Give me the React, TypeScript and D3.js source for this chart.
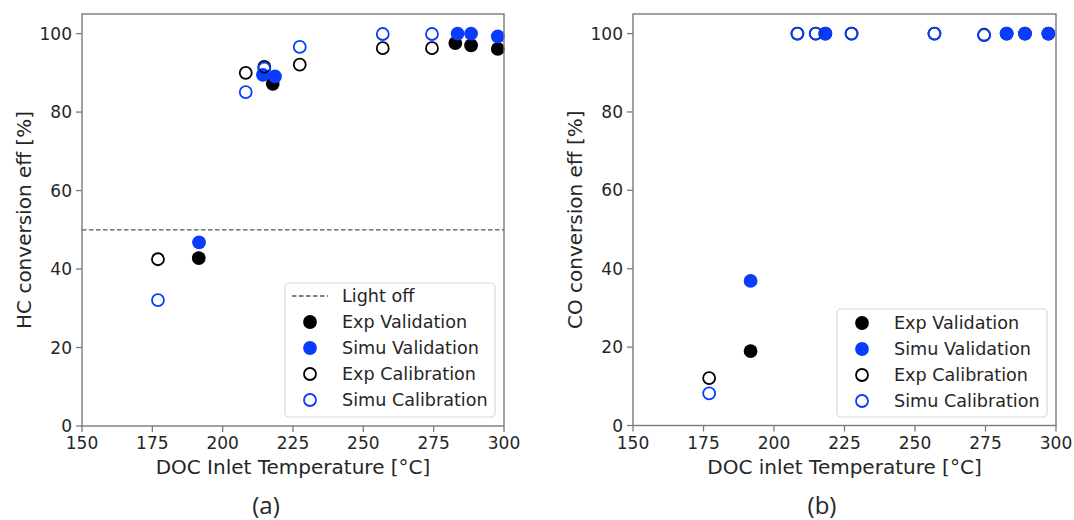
import React from "react";
import * as d3 from "d3";

// ---------- data ----------
const xTicks = [150, 175, 200, 225, 250, 275, 300];
const yTicks = [0, 20, 40, 60, 80, 100];
const lightOff = 50;

// (a) HC
const hcCalT = [177, 208.2, 214.8, 227.4, 256.9, 274.4];
const hcExpCal = [42.5, 90, 91.5, 92.1, 96.3, 96.3];
const hcSimuCal = [32.1, 85.1, 91.1, 96.6, 99.9, 99.9];
const hcExpValT = [191.5, 217.8, 282.7, 288.3, 297.8];
const hcExpVal = [42.8, 87.2, 97.6, 97.0, 96.1];
const hcSimuValT = [191.6, 214.3, 218.6, 283.5, 288.3, 297.8];
const hcSimuVal = [46.8, 89.5, 89.1, 100, 100, 99.3];

// (b) CO
const coCalT = [177, 208.3, 214.8, 227.5, 256.9, 274.5];
const coExpCal = [12.1, 100, 100, 100, 100, 99.7];
const coSimuCal = [8.2, 100, 100, 100, 100, 99.6];
const coValT = [191.7, 218.2, 282.5, 289, 297.3];
const coExpVal = [19.0, 100, 100, 100, 100];
const coSimuVal = [36.9, 100, 100, 100, 100];

const BLUE = "#0a3cff";
const TXT = "#262626";
const SPINE = "#7a7a7a";
const FONT = "DejaVu Sans, sans-serif";

type Series = { xs: number[]; ys: number[]; fill: string; stroke: string; open: boolean };

type PanelProps = {
  left: number;
  right: number;
  top: number;
  bottom: number;
  ylabel: string;
  xlabel: string;
  tag: string;
  tagX: number;
  series: Series[];
  showLightOff: boolean;
  legend: { x: number; y: number; w: number; h: number; rowY0: number };
};

function Panel(p: PanelProps) {
  const x = d3.scaleLinear().domain([150, 300]).range([p.left, p.right]);
  const y = d3.scaleLinear().domain([0, 105]).range([p.bottom, p.top]);
  const r = 6.9;
  const legendItems: { label: string; kind: string; color: string }[] = [];
  if (p.showLightOff) legendItems.push({ label: "Light off", kind: "line", color: "#444" });
  legendItems.push({ label: "Exp Validation", kind: "filled", color: "#000" });
  legendItems.push({ label: "Simu Validation", kind: "filled", color: BLUE });
  legendItems.push({ label: "Exp Calibration", kind: "open", color: "#000" });
  legendItems.push({ label: "Simu Calibration", kind: "open", color: BLUE });
  const L = p.legend;
  const rowH = 26;
  return (
    <g>
      {p.showLightOff && (
        <line
          x1={p.left}
          x2={p.right}
          y1={y(lightOff)}
          y2={y(lightOff)}
          stroke="#555"
          strokeWidth={1.3}
          strokeDasharray="4.5,2.5"
        />
      )}
      {p.series.map((s, si) =>
        s.xs.map((xv, i) => (
          <circle
            key={si + "-" + i}
            cx={x(xv)}
            cy={y(s.ys[i])}
            r={s.open ? r - 0.9 : r}
            fill={s.open ? "none" : s.fill}
            stroke={s.open ? s.stroke : "none"}
            strokeWidth={s.open ? 1.8 : 0}
          />
        ))
      )}
      {/* spines */}
      <rect
        x={p.left}
        y={p.top}
        width={p.right - p.left}
        height={p.bottom - p.top}
        fill="none"
        stroke={SPINE}
        strokeWidth={1.4}
      />
      {/* x ticks */}
      {xTicks.map((t) => (
        <g key={"x" + t}>
          <line x1={x(t)} x2={x(t)} y1={p.bottom} y2={p.bottom + 6} stroke={SPINE} strokeWidth={1.3} />
          <text
            x={x(t)}
            y={p.bottom + 23}
            textAnchor="middle"
            fontFamily={FONT}
            fontSize={17}
            fill={TXT}
          >
            {t}
          </text>
        </g>
      ))}
      {yTicks.map((t) => (
        <g key={"y" + t}>
          <line x1={p.left - 6} x2={p.left} y1={y(t)} y2={y(t)} stroke={SPINE} strokeWidth={1.3} />
          <text
            x={p.left - 10}
            y={y(t) + 6}
            textAnchor="end"
            fontFamily={FONT}
            fontSize={17}
            fill={TXT}
          >
            {t}
          </text>
        </g>
      ))}
      <text
        x={(p.left + p.right) / 2}
        y={p.bottom + 48}
        textAnchor="middle"
        fontFamily={FONT}
        fontSize={20}
        fill={TXT}
      >
        {p.xlabel}
      </text>
      <text
        transform={`translate(${p.left - 51},${(p.top + p.bottom) / 2}) rotate(-90)`}
        textAnchor="middle"
        fontFamily={FONT}
        fontSize={20}
        fill={TXT}
      >
        {p.ylabel}
      </text>
      <text
        x={p.tagX}
        y={514}
        textAnchor="middle"
        fontFamily="Open Sans, Liberation Sans, sans-serif"
        fontSize={24}
        fill={TXT}
      >
        {p.tag}
      </text>
      {/* legend */}
      <rect
        x={L.x}
        y={L.y}
        width={L.w}
        height={L.h}
        rx={4}
        fill="#fff"
        fillOpacity={0.85}
        stroke="#d9d9d9"
        strokeWidth={1.2}
      />
      {legendItems.map((it, i) => {
        const cy = L.rowY0 + i * rowH;
        const mx = L.x + 25;
        return (
          <g key={"l" + i}>
            {it.kind === "line" && (
              <line
                x1={L.x + 7}
                x2={L.x + 43}
                y1={cy}
                y2={cy}
                stroke="#555"
                strokeWidth={1.3}
                strokeDasharray="4.5,2.5"
              />
            )}
            {it.kind === "filled" && <circle cx={mx} cy={cy} r={r} fill={it.color} />}
            {it.kind === "open" && (
              <circle cx={mx} cy={cy} r={r - 0.9} fill="none" stroke={it.color} strokeWidth={1.8} />
            )}
            <text x={L.x + 57} y={cy + 6} fontFamily={FONT} fontSize={17.6} fill={TXT}>
              {it.label}
            </text>
          </g>
        );
      })}
    </g>
  );
}

export default function App() {
  const hcSeries: Series[] = [
    { xs: hcExpValT, ys: hcExpVal, fill: "#000", stroke: "#000", open: false },
    { xs: hcSimuValT, ys: hcSimuVal, fill: BLUE, stroke: BLUE, open: false },
    { xs: hcCalT, ys: hcExpCal, fill: "none", stroke: "#000", open: true },
    { xs: hcCalT, ys: hcSimuCal, fill: "none", stroke: BLUE, open: true },
  ];
  const coSeries: Series[] = [
    { xs: coValT, ys: coExpVal, fill: "#000", stroke: "#000", open: false },
    { xs: coValT, ys: coSimuVal, fill: BLUE, stroke: BLUE, open: false },
    { xs: coCalT, ys: coExpCal, fill: "none", stroke: "#000", open: true },
    { xs: coCalT, ys: coSimuCal, fill: "none", stroke: BLUE, open: true },
  ];
  return (
    <svg
      width={1074}
      height={520}
      style={{ position: "absolute", left: 0, top: 0, background: "#fff" }}
    >
      <rect x={0} y={0} width={1074} height={520} fill="#fff" />
      <Panel
        left={82}
        right={504}
        top={14}
        bottom={426}
        ylabel="HC conversion eff [%]"
        xlabel="DOC Inlet Temperature [°C]"
        tag="(a)"
        tagX={266}
        series={hcSeries}
        showLightOff={true}
        legend={{ x: 285, y: 283, w: 210, h: 134, rowY0: 296 }}
      />
      <Panel
        left={633}
        right={1056}
        top={14}
        bottom={425.5}
        ylabel="CO conversion eff [%]"
        xlabel="DOC inlet Temperature [°C]"
        tag="(b)"
        tagX={822}
        series={coSeries}
        showLightOff={false}
        legend={{ x: 837, y: 309, w: 210, h: 108, rowY0: 323 }}
      />
    </svg>
  );
}
